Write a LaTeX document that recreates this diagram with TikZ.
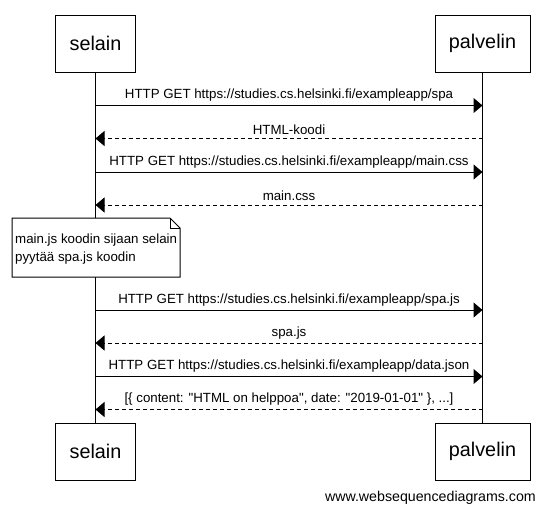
\documentclass[tikz,border=0pt]{standalone}
\usepackage{fontspec}
\setmainfont{Liberation Sans}[Ligatures=TeXOff]
\usetikzlibrary{arrows.meta}
\begin{document}
\begin{tikzpicture}[x=1pt,y=-1pt,
  actor/.style={draw,line width=1pt,minimum width=80pt,minimum height=57pt,inner sep=0pt,font=\fontsize{19.8}{22}\selectfont},
  life/.style={line width=1pt},
  req/.style={line width=1pt,-{Triangle[length=9pt,width=15pt]}},
  resp/.style={line width=1pt,dash pattern=on 4pt off 3pt,-{Triangle[length=9pt,width=15pt]}},
  msg/.style={font=\fontsize{13.3}{15}\selectfont,inner sep=0pt},
  notetext/.style={font=\fontsize{13.3}{15}\selectfont,inner sep=0pt,anchor=west}]
\useasboundingbox (0,0) rectangle (544,515);
\fill[white] (0,0) rectangle (544,515);

% participants, top and bottom
\node[actor] (st) at (95.5,43.5) {selain};
\node[actor,minimum width=95pt] (pt) at (482.5,43.5) {palvelin};
\node[actor] (sb) at (95.5,451.5) {selain};
\node[actor,minimum width=95pt] (pb) at (482.5,451.5) {palvelin};

% lifelines
\draw[life] (st.south) -- (sb.north);
\draw[life] (pt.south) -- (pb.north);

% message anchor points on the lifelines
\foreach \n/\y in {1/105.5,2/138.5,3/172,4/205,5/310,6/343,7/376.5,8/409.5}{
  \coordinate (s\n) at (95.5,\y);
  \coordinate (p\n) at (482.5,\y);
}

\draw[req] (s1) -- (p1) node[msg,midway,above=3.5pt] {HTTP GET https://studies.cs.helsinki.fi/exampleapp/spa};
\draw[resp] (p2) -- (s2) node[msg,midway,above=3.5pt] {HTML-koodi};
\draw[req] (s3) -- (p3) node[msg,midway,above=3.5pt] {HTTP GET https://studies.cs.helsinki.fi/exampleapp/main.css};
\draw[resp] (p4) -- (s4) node[msg,midway,above=3.5pt] {main.css};

% note over the browser
\draw[line width=1pt,fill=white] (12,218) -- (170,218) -- (180,228) -- (180,277) -- (12,277) -- cycle;
\draw[line width=1pt] (170,218) -- (170,228) -- (180,228);
\node[notetext] (n1) at (15,240) {main.js koodin sijaan selain};
\node[notetext] (n2) at (15,258) {pyytää spa.js koodin};

\draw[req] (s5) -- (p5) node[msg,midway,above=3.5pt] {HTTP GET https://studies.cs.helsinki.fi/exampleapp/spa.js};
\draw[resp] (p6) -- (s6) node[msg,midway,above=3.5pt] {spa.js};
\draw[req] (s7) -- (p7) node[msg,midway,above=3.5pt] {HTTP GET https://studies.cs.helsinki.fi/exampleapp/data.json};
\draw[resp] (p8) -- (s8) node[msg,midway,above=3.5pt] {[\{ content: "HTML on helppoa", date: "2019-01-01" \}, ...]};

% footer
\node[font=\fontsize{14.2}{16}\selectfont,inner sep=0pt,anchor=east] (wsd) at (536,498) {www.websequencediagrams.com};
\end{tikzpicture}
\end{document}
